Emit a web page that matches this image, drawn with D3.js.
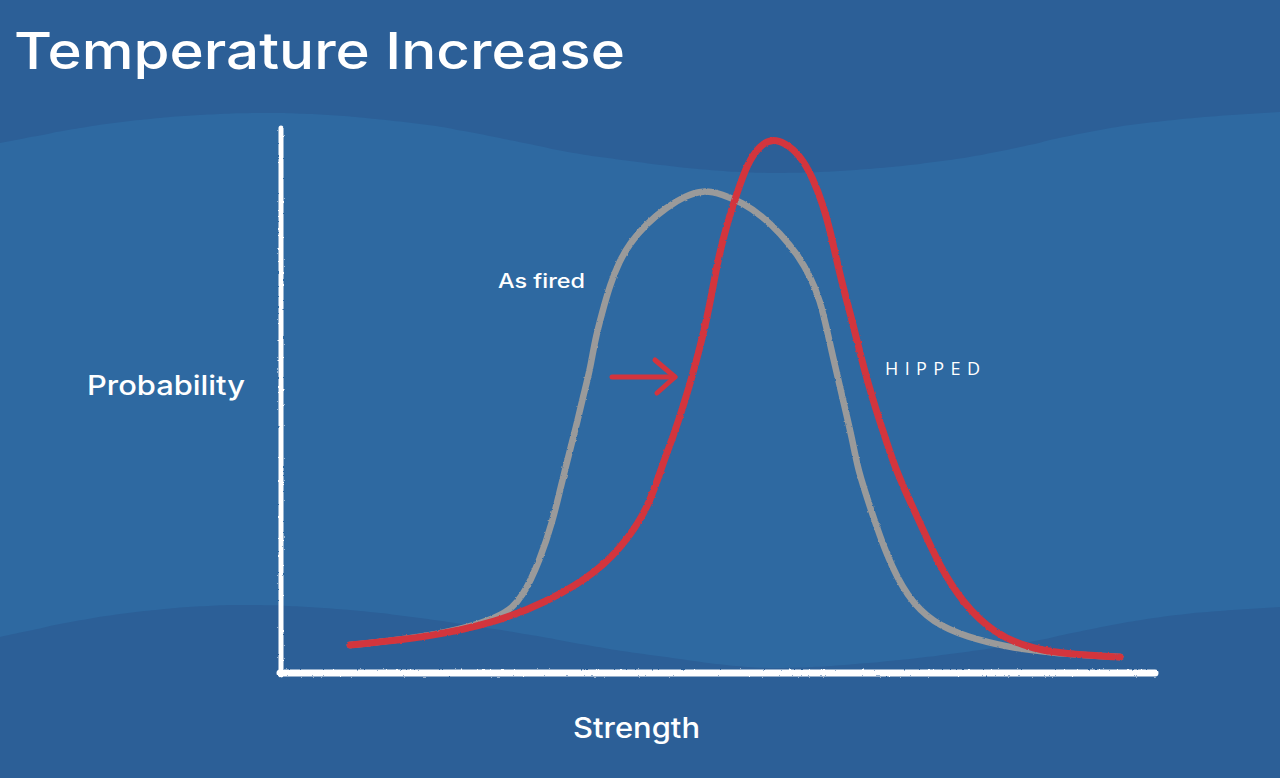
<!DOCTYPE html>
<html><head><meta charset="utf-8">
<script src="https://cdn.jsdelivr.net/npm/d3@7"></script>
<style>
html,body{margin:0;padding:0;background:#2C5F97;overflow:hidden;}
svg{display:block;}
</style></head>
<body>
<svg id="chart" width="1280" height="778"></svg>
<script>
// ---- data (strength units vs. probability units) ----
const asFiredX = [6.9,14.9,22.2,24.2,25.9,27.2,27.9,28.4,28.9,29.6,30.2,30.9,31.4,32.1,32.9,33.8,34.9,36.5,38.6,40.4,42.2,44.1,46.2,48.1,49.9,51.7,53.0,53.9,54.6,55.2,55.9,56.6,57.2,57.7,58.9,60.6,62.6,65.2,68.6,72.6,76.9,83.9];
const asFiredY = [2.8,3.6,5.5,7.6,11.3,15.3,18.3,20.3,22.3,25.0,27.6,30.3,33.3,36.0,38.8,41.1,43.0,44.9,46.6,47.7,48.3,47.9,47.0,45.7,44.0,41.8,39.5,37.3,34.3,31.6,28.6,25.6,23.0,20.3,16.6,11.6,7.6,5.0,3.6,2.6,2.0,1.6];
const hippedX = [6.9,14.9,21.6,26.6,31.6,34.9,36.9,38.2,39.2,40.2,41.1,41.9,42.6,43.2,43.8,44.6,45.6,46.6,47.9,49.1,50.4,51.9,53.2,54.2,54.9,55.4,56.2,57.1,57.9,58.7,59.6,60.6,61.4,62.6,63.9,65.9,68.2,71.2,75.2,79.9,83.9];
const hippedY = [2.8,3.6,5.1,7.1,10.0,13.6,17.0,21.0,23.6,26.6,29.6,32.6,35.5,38.6,41.8,44.9,48.0,50.9,52.8,53.4,53.0,51.8,49.5,46.8,44.3,42.0,38.6,35.3,32.0,29.0,26.0,23.0,20.6,17.8,15.0,10.6,7.0,4.0,2.3,1.8,1.6];
const xDomain = [0, 87.4];
const yDomain = [0, 54.5];
// shift arrow annotation (data units)
const arrowFrom = [33.1, 29.6];
const arrowTo = [39.4, 29.6];
const arrowHeads = [[37.4, 31.3], [37.6, 28.0]];
// texts
const titleText = "Temperature Increase";
const yLabel = "Probability";
const xLabel = "Strength";
const seriesLabels = ["As fired", "HIPPED"];

// background decoration waves (page space)
const upperWave = [[0,143],[130,121],[270,113],[420,124],[600,157],[775,173],[950,160],[1130,125],[1280,112]];
const lowerWave = [[0,637],[120,614],[245,605],[380,613],[500,630],[650,655],[775,668],[900,660],[1000,647],[1160,617],[1280,607]];

const svg = d3.select("#chart");
const W = 1280, H = 778;

const x = d3.scaleLinear().domain(xDomain).range([281, 1155]);
const y = d3.scaleLinear().domain(yDomain).range([673, 128]);

// background
svg.append("rect").attr("width", W).attr("height", H).attr("fill", "#2C5F97");
const waveLine = d3.line().curve(d3.curveMonotoneX);
const area = d3.area().curve(d3.curveMonotoneX)
  .x(d => d[0]).y0(d => d[1]).y1(d => d[2]);
const sampleXs = d3.range(0, 1281, 8);
function interpWave(wave) {
  const tmp = svg.append("path").attr("d", waveLine(wave)).attr("fill","none");
  const node = tmp.node();
  const len = node.getTotalLength();
  const pts = [];
  for (let l = 0; l <= len; l += 2) { const p = node.getPointAtLength(l); pts.push([p.x, p.y]); }
  tmp.remove();
  return xx => {
    let best = pts[0];
    for (const p of pts) { if (Math.abs(p[0]-xx) < Math.abs(best[0]-xx)) best = p; }
    return best[1];
  };
}
const uw = interpWave(upperWave), lw = interpWave(lowerWave);
svg.append("path")
  .attr("d", area(sampleXs.map(xx => [xx, uw(xx), lw(xx)])))
  .attr("fill", "#2E69A1");

// rough filter for hand-drawn look
const defs = svg.append("defs");
const f = defs.append("filter").attr("id", "rough").attr("x", "-5%").attr("y", "-5%").attr("width", "110%").attr("height", "110%");
f.append("feTurbulence").attr("type", "fractalNoise").attr("baseFrequency", "0.35").attr("numOctaves", 2).attr("seed", 3).attr("result", "n");
f.append("feDisplacementMap").attr("in", "SourceGraphic").attr("in2", "n").attr("scale", 2.2).attr("xChannelSelector", "R").attr("yChannelSelector", "G");

// axes (hand-drawn style lines built from scales)
const axisG = svg.append("g").attr("filter", "url(#rough)");
axisG.append("line")
  .attr("x1", x(0)).attr("x2", x(0))
  .attr("y1", y(yDomain[1])).attr("y2", y(0) + 2)
  .attr("stroke", "#fff").attr("stroke-width", 5).attr("stroke-linecap", "round");
axisG.append("line")
  .attr("x1", x(0) - 1).attr("x2", x(xDomain[1]))
  .attr("y1", y(0)).attr("y2", y(0))
  .attr("stroke", "#fff").attr("stroke-width", 7).attr("stroke-linecap", "round");

// curves
const line = d3.line().x(d => x(d[0])).y(d => y(d[1])).curve(d3.curveBasis);
const curveG = svg.append("g").attr("filter", "url(#rough)");
curveG.append("path")
  .attr("d", line(asFiredX.map((v, i) => [v, asFiredY[i]])))
  .attr("fill", "none").attr("stroke", "#9A9A9A").attr("stroke-width", 6.5)
  .attr("stroke-linecap", "round").attr("stroke-linejoin", "round");
curveG.append("path")
  .attr("d", line(hippedX.map((v, i) => [v, hippedY[i]])))
  .attr("fill", "none").attr("stroke", "#D3343D").attr("stroke-width", 7)
  .attr("stroke-linecap", "round").attr("stroke-linejoin", "round");

// arrow
const arrowG = svg.append("g").attr("stroke", "#D3343D").attr("stroke-width", 5)
  .attr("stroke-linecap", "round").attr("fill", "none");
arrowG.append("line")
  .attr("x1", x(arrowFrom[0])).attr("y1", y(arrowFrom[1]))
  .attr("x2", x(arrowTo[0])).attr("y2", y(arrowTo[1]));
arrowG.append("path")
  .attr("d", `M${x(arrowHeads[0][0])},${y(arrowHeads[0][1])}L${x(arrowTo[0])},${y(arrowTo[1])}L${x(arrowHeads[1][0])},${y(arrowHeads[1][1])}`)
  .attr("stroke-linejoin", "round");

// texts
function fitText(sel, targetW) {
  const w = sel.node().getComputedTextLength();
  if (w > 0) sel.attr("textLength", targetW).attr("lengthAdjust", "spacingAndGlyphs");
}
const font = "Inter, 'Noto Sans', sans-serif";
const t = svg.append("text").text(titleText)
  .attr("x", 14).attr("y", 69)
  .attr("font-family", font).attr("font-size", 51).attr("font-weight", 500)
  .attr("fill", "#fff");
fitText(t, 611);

const yl = svg.append("text").text(yLabel)
  .attr("x", 87).attr("y", 395)
  .attr("font-family", font).attr("font-size", 27).attr("font-weight", 500)
  .attr("fill", "#fff");
fitText(yl, 158);

const xl = svg.append("text").text(xLabel)
  .attr("x", 573).attr("y", 738)
  .attr("font-family", font).attr("font-size", 28).attr("font-weight", 500)
  .attr("fill", "#fff");
fitText(xl, 127);

const l1 = svg.append("text").text(seriesLabels[0])
  .attr("x", 498).attr("y", 288)
  .attr("font-family", font).attr("font-size", 20).attr("font-weight", 500)
  .attr("fill", "#fff");
fitText(l1, 87);

const l2 = svg.append("text").text(seriesLabels[1])
  .attr("x", 885).attr("y", 375)
  .attr("font-family", "'Open Sans', Lato, sans-serif").attr("font-size", 18).attr("font-weight", 500)
  .attr("fill", "#fff");
fitText(l2, 95);
l2.attr("lengthAdjust", "spacing");
</script>
</body></html>
